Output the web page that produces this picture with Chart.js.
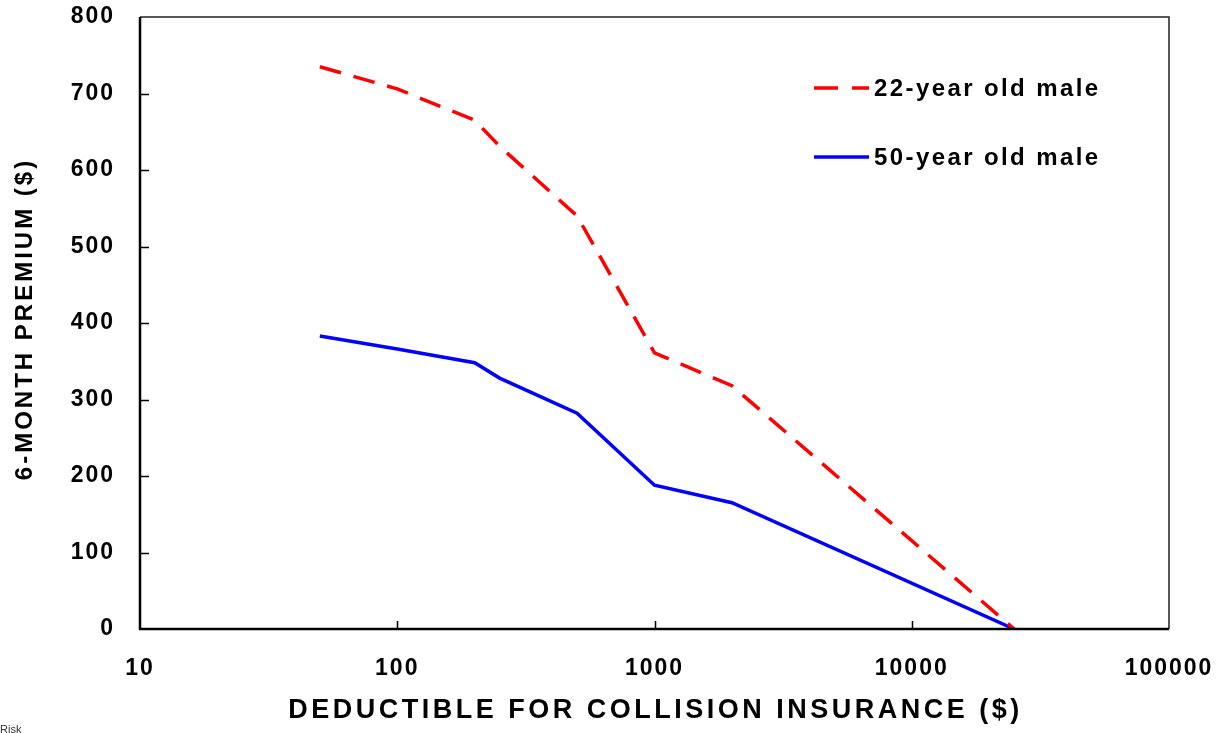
<!DOCTYPE html>
<html>
<head>
<meta charset="utf-8">
<title>Premium vs deductible</title>
<script src="https://cdn.jsdelivr.net/npm/chart.js@4/dist/chart.umd.min.js"></script>
<style>
  html, body { margin: 0; padding: 0; background: #fff; }
  canvas { display: block; }
</style>
</head>
<body>
<canvas id="c" width="1226" height="733"></canvas>
<script>
// Collision deductible ($) and 6-month premium ($) for two drivers
const deductibles = [50, 100, 200, 250, 500, 1000, 2000, 25000];
const premium22 = [735, 706, 665, 631, 540, 361, 318, 0];
const premium50 = [383, 366, 348, 328, 282, 188, 165, 0];

const xTicks = [10, 100, 1000, 10000, 100000];
const yTicks = [0, 100, 200, 300, 400, 500, 600, 700, 800];

const seriesNames = ['22-year old male', '50-year old male'];
const xTitle = 'DEDUCTIBLE FOR COLLISION INSURANCE ($)';
const yTitle = '6-MONTH PREMIUM ($)';
const footNote = 'Risk';

const FONT = '"Liberation Sans", Arial, Helvetica, sans-serif';

const toPoints = ys => deductibles.map((d, i) => ({ x: d, y: ys[i] }));

// Frame, inward tick marks, axis titles and the legend
const decor = {
  id: 'decor',
  beforeDraw(chart) {
    chart.ctx.letterSpacing = '2px';
  },
  afterDraw(chart) {
    const { ctx, chartArea: a, scales } = chart;
    const xs = scales.x, ys = scales.y;
    ctx.save();
    ctx.letterSpacing = '0px';

    // inward tick marks
    ctx.strokeStyle = '#000';
    ctx.lineWidth = 1.5;
    ctx.beginPath();
    yTicks.forEach(v => {
      if (v === yTicks[0] || v === yTicks[yTicks.length - 1]) return;
      const py = Math.round(ys.getPixelForValue(v)) + 0.5;
      ctx.moveTo(a.left, py); ctx.lineTo(a.left + 9, py);
    });
    xTicks.forEach(v => {
      if (v === xTicks[0] || v === xTicks[xTicks.length - 1]) return;
      const px = Math.round(xs.getPixelForValue(v)) + 0.5;
      ctx.moveTo(px, a.bottom); ctx.lineTo(px, a.bottom - 8);
    });
    ctx.stroke();

    // top and right edges (thin)
    ctx.strokeStyle = '#222';
    ctx.lineWidth = 1.5;
    ctx.beginPath();
    ctx.moveTo(a.left, a.top); ctx.lineTo(a.right, a.top); ctx.lineTo(a.right, a.bottom);
    ctx.stroke();

    // left and bottom axes (heavy)
    ctx.strokeStyle = '#000';
    ctx.lineWidth = 2.5;
    ctx.beginPath();
    ctx.moveTo(a.left, a.top); ctx.lineTo(a.left, a.bottom); ctx.lineTo(a.right, a.bottom);
    ctx.stroke();

    // axis titles
    ctx.fillStyle = '#000';
    ctx.textAlign = 'center';
    ctx.textBaseline = 'middle';
    ctx.font = 'bold 27px ' + FONT;
    ctx.letterSpacing = '3.5px';
    ctx.fillText(xTitle, (a.left + a.right) / 2 + 1, 711);

    ctx.save();
    ctx.translate(25, (a.top + a.bottom) / 2);
    ctx.rotate(-Math.PI / 2);
    ctx.font = 'bold 24px ' + FONT;
    ctx.letterSpacing = '3px';
    ctx.fillText(yTitle, 4, 0);
    ctx.restore();

    // legend
    const rows = [88, 157];
    chart.data.datasets.forEach((ds, i) => {
      const y = rows[i];
      ctx.save();
      ctx.strokeStyle = ds.borderColor;
      ctx.lineWidth = ds.borderWidth;
      ctx.setLineDash(i === 0 ? [24, 14] : []);
      ctx.beginPath();
      ctx.moveTo(814, y); ctx.lineTo(869, y);
      ctx.stroke();
      ctx.restore();
      ctx.textAlign = 'left';
      ctx.textBaseline = 'middle';
      ctx.font = 'bold 24px ' + FONT;
      ctx.letterSpacing = '2.4px';
      ctx.fillStyle = '#000';
      ctx.fillText(ds.label, 874, y + 1);
    });

    // footnote
    ctx.letterSpacing = '0px';
    ctx.font = '11px ' + FONT;
    ctx.fillStyle = '#333';
    ctx.textAlign = 'left';
    ctx.textBaseline = 'alphabetic';
    ctx.fillText(footNote, 0, 733);

    ctx.restore();
  }
};

new Chart(document.getElementById('c'), {
  type: 'line',
  data: {
    datasets: [
      {
        label: seriesNames[0],
        data: toPoints(premium22),
        borderColor: '#ff0000',
        borderWidth: 3.5,
        borderDash: [22, 13],
        pointRadius: 0,
        tension: 0,
        fill: false
      },
      {
        label: seriesNames[1],
        data: toPoints(premium50),
        borderColor: '#0000ff',
        borderWidth: 3.5,
        pointRadius: 0,
        tension: 0,
        fill: false
      }
    ]
  },
  options: {
    responsive: false,
    animation: false,
    devicePixelRatio: 1,
    layout: { padding: { top: 17, right: 57, left: 0, bottom: 0 } },
    plugins: {
      legend: { display: false },
      tooltip: { enabled: false }
    },
    scales: {
      x: {
        type: 'logarithmic',
        min: xTicks[0],
        max: xTicks[xTicks.length - 1],
        grid: { display: false, drawTicks: false },
        border: { display: false },
        afterBuildTicks: s => { s.ticks = xTicks.map(v => ({ value: v })); },
        afterFit: s => { s.height = 104; s.paddingLeft = 0; s.paddingRight = 0; },
        ticks: {
          autoSkip: false,
          maxRotation: 0,
          padding: 26,
          color: '#000',
          font: { family: FONT, size: 23, weight: 'bold' },
          callback: v => String(v)
        }
      },
      y: {
        type: 'linear',
        min: yTicks[0],
        max: yTicks[yTicks.length - 1],
        grid: { display: false, drawTicks: false },
        border: { display: false },
        afterBuildTicks: s => { s.ticks = yTicks.map(v => ({ value: v })); },
        afterFit: s => { s.width = 140; s.paddingTop = 0; s.paddingBottom = 0; },
        ticks: {
          padding: 25,
          color: '#000',
          font: { family: FONT, size: 23, weight: 'bold' },
          callback: v => String(v)
        }
      }
    }
  },
  plugins: [decor]
});
</script>
</body>
</html>
